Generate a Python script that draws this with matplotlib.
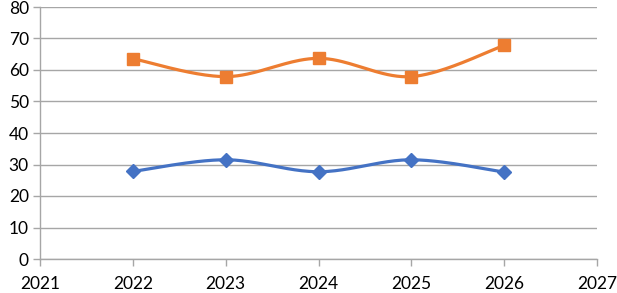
import numpy as np
import matplotlib.pyplot as plt

years = [2022, 2023, 2024, 2025, 2026]
orange_vals = [63.6, 57.9, 63.7, 57.9, 67.8]
blue_vals = [27.8, 31.5, 27.7, 31.5, 27.6]

plt.rcParams['font.family'] = ['Lato', 'DejaVu Sans']


def smooth(x, y, n=40):
    # Excel-style smoothed line (Bezier with Catmull-Rom control points)
    x = np.asarray(x, float)
    y = np.asarray(y, float)
    px = np.concatenate([[x[0]], x, [x[-1]]])
    py = np.concatenate([[y[0]], y, [y[-1]]])
    xs, ys = [], []
    t = np.linspace(0, 1, n)
    for i in range(1, len(px) - 2):
        p0 = np.array([px[i], py[i]])
        p3 = np.array([px[i + 1], py[i + 1]])
        p1 = p0 + (np.array([px[i + 1], py[i + 1]]) - np.array([px[i - 1], py[i - 1]])) / 6
        p2 = p3 - (np.array([px[i + 2], py[i + 2]]) - np.array([px[i], py[i]])) / 6
        b = ((1 - t) ** 3)[:, None] * p0 + (3 * (1 - t) ** 2 * t)[:, None] * p1 \
            + (3 * (1 - t) * t ** 2)[:, None] * p2 + (t ** 3)[:, None] * p3
        xs.extend(b[:, 0])
        ys.extend(b[:, 1])
    return xs, ys


fig = plt.figure(figsize=(6.17, 2.93), dpi=100)
ax = fig.add_axes([40 / 617, 34 / 293, 557 / 617, 252 / 293])

grid_c = '#a6a6a6'

for vals, col, mk, ms in [(orange_vals, '#ed7d31', 's', 9.3), (blue_vals, '#4472c4', 'D', 7.5)]:
    sx, sy = smooth(years, vals)
    ax.plot(sx, sy, color=col, lw=2.3, zorder=3, solid_capstyle='round')
    ax.plot(years, vals, ls='none', marker=mk, ms=ms, color=col, zorder=4)

ax.set_xlim(2021, 2027)
ax.set_ylim(0, 80)
ax.set_xticks(range(2021, 2028))
ax.set_yticks(range(0, 81, 10))
ax.yaxis.grid(True, color=grid_c, lw=1)
ax.set_axisbelow(True)
for side in ['top', 'right']:
    ax.spines[side].set_visible(False)
for side in ['left', 'bottom']:
    ax.spines[side].set_color(grid_c)
    ax.spines[side].set_linewidth(1)
ax.tick_params(axis='both', direction='out', length=5, color=grid_c, width=1,
               labelsize=12.5, labelcolor='black')
ax.tick_params(axis='x', pad=7)
ax.tick_params(axis='y', pad=3)

fig.savefig('out.png', dpi=100)
